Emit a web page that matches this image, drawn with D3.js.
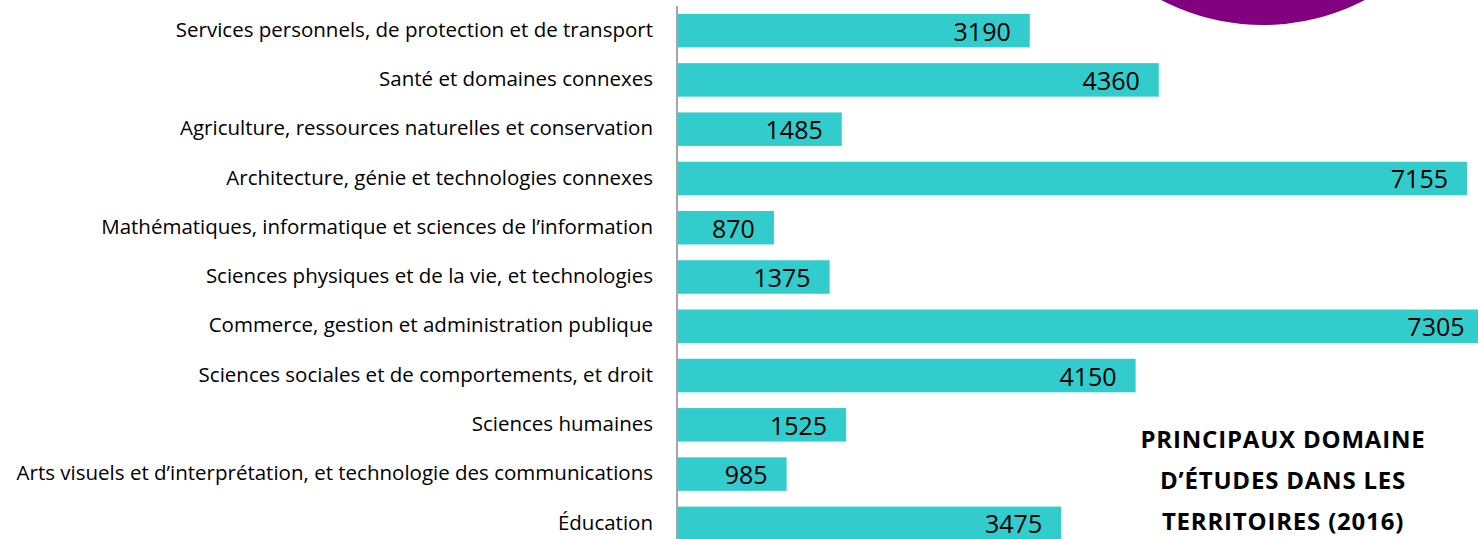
<!DOCTYPE html>
<html>
<head>
<meta charset="utf-8">
<script src="https://cdn.jsdelivr.net/npm/d3@7"></script>
<style>
  body { margin: 0; background: #fff; }
  svg { display: block; }
</style>
</head>
<body>
<svg id="chart"></svg>
<script>
// categories top to bottom
const categories = [
  'Services personnels, de protection et de transport',
  'Santé et domaines connexes',
  'Agriculture, ressources naturelles et conservation',
  'Architecture, génie et technologies connexes',
  'Mathématiques, informatique et sciences de l’information',
  'Sciences physiques et de la vie, et technologies',
  'Commerce, gestion et administration publique',
  'Sciences sociales et de comportements, et droit',
  'Sciences humaines',
  'Arts visuels et d’interprétation, et technologie des communications',
  'Éducation'
]
const values = [3190, 4360, 1485, 7155, 870, 1375, 7305, 4150, 1525, 985, 3475]
const titleLines = ['PRINCIPAUX DOMAINE', 'D’ÉTUDES DANS LES', 'TERRITOIRES (2016)']

const width = 1478
const height = 539
const font = '"Open Sans", Lato, sans-serif'

const svg = d3.select('#chart')
    .attr('width', width)
    .attr('height', height)

// purple disc in the top right corner
svg.append('circle')
    .attr('cx', 1263)
    .attr('cy', -195)
    .attr('r', 220)
    .attr('fill', '#800080')

const x = d3.scaleLinear()
    .domain([0, 7155])
    .range([678, 1467])

const y = d3.scaleBand()
    .domain(categories)
    .range([6, 548])
    .paddingInner(0.32)
    .paddingOuter(0.16)

// bars
svg.append('g')
    .selectAll('rect')
    .data(values)
    .join('rect')
    .attr('x', x(0))
    .attr('y', (d, i) => y(categories[i]))
    .attr('width', d => x(d) - x(0))
    .attr('height', y.bandwidth())
    .attr('fill', '#33CCCC')

// value labels inside the bar end
svg.append('g')
    .selectAll('text')
    .data(values)
    .join('text')
    .attr('x', d => x(d) - 19)
    .attr('y', (d, i) => y(categories[i]) + y.bandwidth() / 2 + 10)
    .attr('text-anchor', 'end')
    .style('font-family', font)
    .style('font-size', '25px')
    .style('fill', '#000')
    .text(d => d)

// category axis
const axis = svg.append('g')
    .attr('transform', 'translate(' + 677 + ',0)')
    .call(d3.axisLeft(y).tickSize(0).tickPadding(24))

axis.select('.domain')
    .attr('d', 'M0,6V' + height)
    .attr('stroke', '#888')
    .attr('stroke-width', 1.5)

axis.selectAll('.tick text')
    .style('font-family', font)
    .style('font-size', '20.5px')
    .style('fill', '#000')
    .attr('dy', '0.3em')

// title
svg.append('g')
    .selectAll('text')
    .data(titleLines)
    .join('text')
    .attr('x', 1283)
    .attr('y', (d, i) => 448 + i * 41)
    .attr('text-anchor', 'middle')
    .style('font-family', font)
    .style('font-weight', 'bold')
    .style('font-size', '24px')
    .style('letter-spacing', '0.8px')
    .style('fill', '#000')
    .text(d => d)
</script>
</body>
</html>
